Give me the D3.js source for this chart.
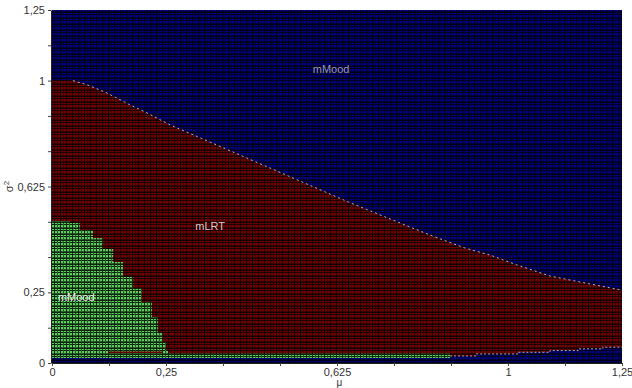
<!DOCTYPE html>
<html>
<head>
<meta charset="utf-8">
<script src="https://cdn.jsdelivr.net/npm/d3@7"></script>
<style>
  html, body { margin: 0; padding: 0; background: #fff; }
  svg { display: block; }
</style>
</head>
<body>
<svg id="chart" width="632" height="388"></svg>
<script>
/* tick values and labels */
const tickValues = [0, 0.125, 0.25, 0.375, 0.5, 0.625, 0.75, 0.875, 1, 1.125, 1.25]
const labelledTicks = [0, 0.25, 0.625, 1, 1.25]

/* mLRT / mMood boundary (upper) */
const upperU = [0, 0.046, 0.079, 0.121, 0.171, 0.204, 0.259, 0.35, 0.45, 0.55, 0.65, 0.763, 0.829, 0.906, 0.961, 1.02, 1.092, 1.17, 1.25]
const upperS = [1.0, 1.0, 0.984, 0.956, 0.914, 0.889, 0.843, 0.78, 0.71, 0.64, 0.57, 0.496, 0.453, 0.407, 0.382, 0.347, 0.308, 0.283, 0.258]

/* mMood (green, lower left) boundary */
const greenU = [0, 0.018, 0.039, 0.061, 0.09, 0.112, 0.134, 0.156, 0.178, 0.197, 0.219, 0.232, 0.243, 0.25, 0.255]
const greenS = [0.503, 0.503, 0.496, 0.471, 0.443, 0.404, 0.358, 0.305, 0.266, 0.216, 0.163, 0.106, 0.074, 0.046, 0.034]

/* thin green strip along the bottom */
const stripU = [0, 0.873]
const stripS = [0.034, 0.034]

/* bottom blue band (steps) */
const bandU = [0, 0.873, 0.93, 1.022, 1.092, 1.154, 1.208, 1.25]
const bandS = [0.018, 0.025, 0.032, 0.038, 0.044, 0.05, 0.056, 0.056]

/* small red segment inside the green region */
const redSegU = [0.123, 0.243]
const redSegS = [0.038, 0.038]

/* region labels */
const labels = [
  { text: "mMood", u: 0.612, s: 1.04, fill: "#9a9aa8" },
  { text: "mLRT", u: 0.347, s: 0.485, fill: "#d2c8c8" },
  { text: "mMood", u: 0.013, s: 0.233, fill: "#eeeeee", anchor: "start" }
]

/* plot box */
const plotLeft = 52, plotRight = 622, plotTop = 10, plotBottom = 363

const svg = d3.select("#chart")
const x = d3.scaleLinear([0, 1.25], [plotLeft, plotRight])
const y = d3.scaleLinear([0, 1.25], [plotBottom, plotTop])

/* textures: coloured cells with dark grid lines */
const defs = svg.append("defs")
function texture(id, bright, dark, mid) {
  const p = defs.append("pattern")
  .attr("id", id)
  .attr("patternUnits", "userSpaceOnUse")
  .attr("x", plotLeft).attr("y", plotTop)
  .attr("width", 6).attr("height", 6)
  p.append("rect").attr("width", 6).attr("height", 6).attr("fill", bright)
  p.append("rect").attr("x", 0).attr("y", 1).attr("width", 6).attr("height", 1).attr("fill", mid)
  p.append("rect").attr("x", 0).attr("y", 4).attr("width", 6).attr("height", 1).attr("fill", dark)
  p.append("rect").attr("x", 2).attr("y", 0).attr("width", 1).attr("height", 6).attr("fill", dark)
  p.append("rect").attr("x", 5).attr("y", 0).attr("width", 1).attr("height", 6).attr("fill", mid)
  p.append("rect").attr("x", 0).attr("y", 2).attr("width", 6).attr("height", 1).attr("fill", dark)
}
texture("tex-blue", "#000088", "#000014", "#00003e")
texture("tex-red", "#780000", "#140000", "#3c0000")
texture("tex-green", "#5ccc5c", "#0c280c", "#2c5c2c")

const pts = (us, ss) => us.map((u, i) => [u, ss[i]])

/* blue background */
svg.append("rect")
.attr("x", x(0)).attr("y", y(1.25))
.attr("width", x(1.25) - x(0))
.attr("height", y(0) - y(1.25))
.attr("fill", "url(#tex-blue)")

/* red (mLRT) region */
svg.append("path")
.attr("fill", "url(#tex-red)")
.attr("d", d3.area().x(d => x(d[0])).y0(y(0)).y1(d => y(d[1]))(pts(upperU, upperS)))

/* bottom blue band */
svg.append("path")
.attr("fill", "url(#tex-blue)")
.attr("d", d3.area().curve(d3.curveStepAfter).x(d => x(d[0])).y0(y(0)).y1(d => y(d[1]))(pts(bandU, bandS)))

/* green strip + green region */
svg.append("path")
.attr("fill", "url(#tex-green)")
.attr("d", d3.area().x(d => x(d[0])).y0(y(bandS[0])).y1(d => y(d[1]))(pts(stripU, stripS)))

svg.append("path")
.attr("fill", "url(#tex-green)")
.attr("d", d3.area().curve(d3.curveStepAfter).x(d => x(d[0])).y0(y(bandS[0])).y1(d => y(d[1]))(pts(greenU, greenS)))

svg.append("path")
.attr("fill", "none")
.attr("stroke", "#6a0000")
.attr("stroke-width", 1.5)
.attr("d", d3.line().x(d => x(d[0])).y(d => y(d[1]))(pts(redSegU, redSegS)))

/* light dotted edges between regions */
svg.append("path")
.attr("fill", "none")
.attr("stroke", "#b8b8b8")
.attr("stroke-width", 1)
.attr("stroke-dasharray", "2,3")
.attr("d", d3.line().x(d => x(d[0])).y(d => y(d[1]))(pts(upperU.slice(1), upperS.slice(1))))

svg.append("path")
.attr("fill", "none")
.attr("stroke", "#a8a8c0")
.attr("stroke-width", 1)
.attr("stroke-dasharray", "2,2")
.attr("d", d3.line().curve(d3.curveStepAfter).x(d => x(d[0])).y(d => y(d[1]))(pts(bandU.slice(1), bandS.slice(1))))

/* region labels */
svg.append("g")
.selectAll("text")
.data(labels)
.join("text")
.attr("x", d => x(d.u))
.attr("y", d => y(d.s))
.attr("text-anchor", d => d.anchor || "middle")
.attr("dy", "0.35em")
.attr("fill", d => d.fill)
.style("font", "11px 'Liberation Sans', Arial, sans-serif")
.text(d => d.text)

/* axes */
const fmt = d => labelledTicks.includes(d) ? String(d).replace(".", ",") : ""

svg.append("g")
.attr("transform", `translate(0,${plotBottom})`)
.call(d3.axisBottom(x).tickValues(tickValues).tickFormat(fmt).tickSize(3).tickPadding(2).tickSizeOuter(0))
.call(g => g.select(".domain").attr("stroke", "#222"))
.call(g => g.selectAll(".tick line").attr("stroke", "#444"))
.call(g => g.selectAll(".tick text")
  .attr("fill", "#333")
  .style("font", "11px 'Liberation Sans', Arial, sans-serif"))

svg.append("g")
.attr("transform", `translate(${plotLeft - 1},0)`)
.call(d3.axisLeft(y).tickValues(tickValues).tickFormat(fmt).tickSize(3).tickSizeOuter(0))
.call(g => g.select(".domain").attr("stroke", "#222"))
.call(g => g.selectAll(".tick line").attr("stroke", "#444"))
.call(g => g.selectAll(".tick text")
  .attr("fill", "#333")
  .attr("x", -6)
  .style("font", "11px 'Liberation Sans', Arial, sans-serif"))

/* axis titles */
svg.append("text")
.attr("x", x(0.63))
.attr("y", 386)
.attr("text-anchor", "middle")
.attr("fill", "#333")
.style("font", "10px 'Liberation Sans', Arial, sans-serif")
.text("μ")

const yt = svg.append("text")
.attr("transform", `translate(13,${y(0.625)}) rotate(-90)`)
.attr("text-anchor", "middle")
.attr("fill", "#333")
.style("font", "11px 'Liberation Sans', Arial, sans-serif")
yt.append("tspan").text("σ")
yt.append("tspan").attr("dy", "-0.5em").style("font-size", "8px").text("2")
</script>
</body>
</html>
